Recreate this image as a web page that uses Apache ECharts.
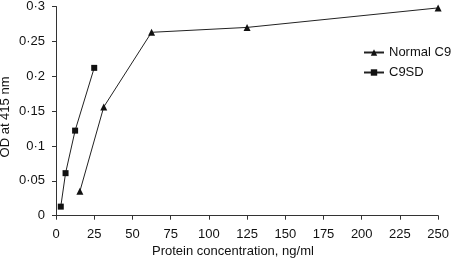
<!DOCTYPE html>
<html>
<head>
<meta charset="utf-8">
<script src="https://cdn.jsdelivr.net/npm/echarts@6/dist/echarts.min.js"></script>
<style>
  html, body { margin: 0; padding: 0; background: #fff; }
  #chart { width: 452px; height: 262px; }
</style>
</head>
<body>
<div id="chart"></div>
<script>
// protein concentration (ng/ml) and OD at 415 nm
const normalConc = [15.625, 31.25, 62.5, 125, 250]
const normalOD = [0.035, 0.156, 0.263, 0.270, 0.298]
const sdConc = [3.125, 6.25, 12.5, 25]
const sdOD = [0.013, 0.061, 0.122, 0.212]
const seriesNames = ['Normal C9', 'C9SD']
const xLabel = 'Protein concentration, ng/ml'
const yLabel = 'OD at 415 nm'

const font = 'Liberation Sans, Arial, sans-serif'
const chart = echarts.init(document.getElementById('chart'))

function pairs(xs, ys) {
  return xs.map((x, i) => [x, ys[i]])
}

chart.setOption({
  animation: false,
  color: ['#111', '#111'],
  grid: { left: 56, right: 12, top: 4.3, bottom: 46.3, containLabel: false },
  legend: {
    orient: 'vertical',
    left: 358,
    top: 41,
    itemWidth: 20,
    itemHeight: 8,
    itemGap: 7,
    textStyle: { color: '#111', fontSize: 13, fontFamily: font },
    data: seriesNames
  },
  xAxis: {
    type: 'value',
    min: 0,
    max: 250,
    interval: 25,
    splitLine: { show: false },
    axisLine: { lineStyle: { color: '#333', width: 1 } },
    axisTick: { length: 4, lineStyle: { color: '#333' } },
    axisLabel: { color: '#111', fontSize: 13, fontFamily: font, margin: 12 }
  },
  yAxis: {
    type: 'value',
    min: 0,
    max: 0.3,
    interval: 0.05,
    splitLine: { show: false },
    axisLine: { show: true, lineStyle: { color: '#333', width: 1 } },
    axisTick: { show: true, length: 4, lineStyle: { color: '#333' } },
    axisLabel: {
      color: '#111',
      fontSize: 13,
      fontFamily: font,
      margin: 11,
      formatter: (v) => String(Math.round(v * 100) / 100).replace('.', '·')
    }
  },
  graphic: [
    {
      type: 'text',
      left: 152,
      top: 245,
      style: { text: xLabel, fill: '#111', fontSize: 13, fontFamily: font }
    },
    {
      type: 'text',
      x: 5,
      y: 117,
      rotation: Math.PI / 2,
      style: {
        text: yLabel,
        fill: '#111',
        fontSize: 13,
        fontFamily: font,
        textAlign: 'center',
        textVerticalAlign: 'middle'
      }
    }
  ],
  series: [
    {
      name: seriesNames[0],
      type: 'line',
      data: pairs(normalConc, normalOD),
      symbol: 'triangle',
      symbolSize: 7,
      lineStyle: { width: 1, color: '#222' },
      itemStyle: { color: '#111' }
    },
    {
      name: seriesNames[1],
      type: 'line',
      data: pairs(sdConc, sdOD),
      symbol: 'rect',
      symbolSize: 6,
      lineStyle: { width: 1, color: '#222' },
      itemStyle: { color: '#111' }
    }
  ]
})
</script>
</body>
</html>
